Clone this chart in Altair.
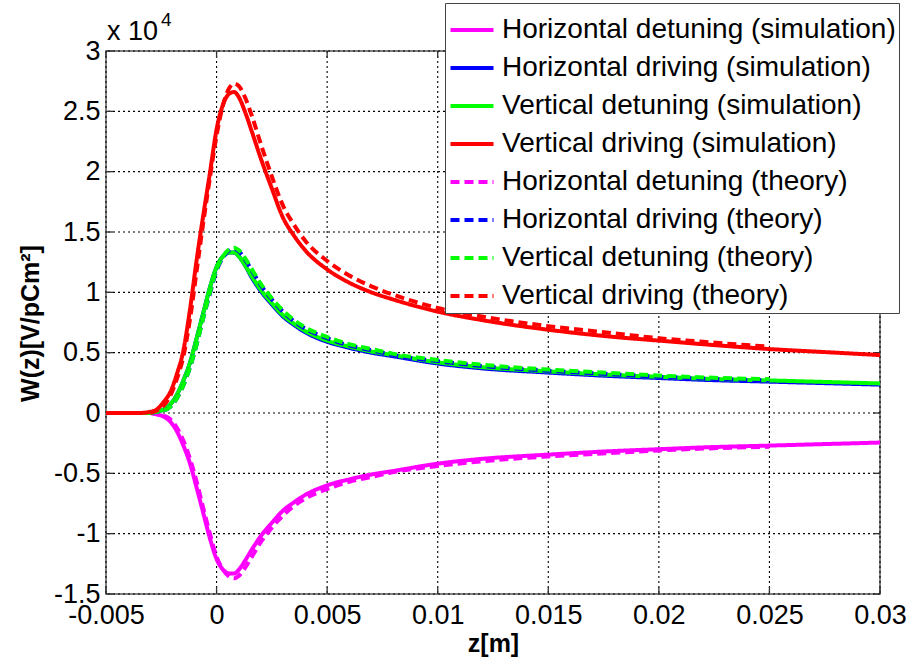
import altair as alt
import pandas as pd

# Wake potential W(z) in units of 1e4 V/pC/m^2 along z [m]
z_sim = [-0.005, -0.004, -0.0035, -0.003, -0.0027, -0.0024, -0.0021, -0.0018,
         -0.0015, -0.0012, -0.0009, -0.0006, -0.0003, 0.0, 0.0003, 0.0006,
         0.0008, 0.001, 0.0013, 0.0016, 0.002, 0.0025, 0.003, 0.0035, 0.004,
         0.005, 0.006, 0.007, 0.008, 0.01, 0.012, 0.015, 0.018, 0.02, 0.022,
         0.025, 0.028, 0.03]

vert_driving_sim = [0.0, 0.0, 0.0, 0.01, 0.03, 0.09, 0.17, 0.32, 0.52, 0.86,
                    1.27, 1.64, 1.99, 2.35, 2.56, 2.65, 2.66, 2.62, 2.49, 2.33,
                    2.11, 1.86, 1.62, 1.47, 1.35, 1.19, 1.08, 1.00, 0.94, 0.84,
                    0.77, 0.69, 0.63, 0.60, 0.57, 0.53, 0.50, 0.48]

vert_detuning_sim = [0.0, 0.0, 0.0, 0.0, 0.01, 0.03, 0.07, 0.15, 0.27, 0.42,
                     0.62, 0.83, 1.04, 1.21, 1.30, 1.33, 1.33, 1.30, 1.22, 1.13,
                     1.02, 0.91, 0.81, 0.74, 0.68, 0.60, 0.55, 0.51, 0.48, 0.42,
                     0.38, 0.345, 0.315, 0.30, 0.285, 0.27, 0.255, 0.245]

horiz_driving_sim = [0.0, 0.0, 0.0, 0.0, 0.01, 0.03, 0.07, 0.15, 0.27, 0.42,
                     0.62, 0.83, 1.04, 1.21, 1.30, 1.33, 1.33, 1.30, 1.22, 1.12,
                     1.01, 0.90, 0.80, 0.73, 0.67, 0.59, 0.54, 0.50, 0.47, 0.41,
                     0.37, 0.335, 0.305, 0.29, 0.275, 0.26, 0.245, 0.235]

horiz_detuning_sim = [0.0, 0.0, 0.0, 0.0, -0.01, -0.03, -0.07, -0.15, -0.27, -0.42,
                      -0.62, -0.83, -1.04, -1.21, -1.30, -1.33, -1.33, -1.30, -1.22, -1.13,
                      -1.02, -0.91, -0.81, -0.74, -0.68, -0.60, -0.55, -0.51, -0.48, -0.42,
                      -0.38, -0.345, -0.315, -0.30, -0.285, -0.27, -0.255, -0.245]

z_th = [-0.003, -0.0027, -0.0024, -0.0021, -0.0018, -0.0015, -0.0012, -0.0009,
        -0.0006, -0.0003, 0.0, 0.0003, 0.0006, 0.0008, 0.001, 0.0013, 0.0016,
        0.002, 0.0025, 0.003, 0.0035, 0.004, 0.005, 0.006, 0.007, 0.008, 0.01,
        0.012, 0.015, 0.018, 0.02, 0.022, 0.025]

vert_driving_th = [0.0, 0.02, 0.06, 0.14, 0.28, 0.47, 0.78, 1.18, 1.58, 1.95,
                   2.30, 2.56, 2.70, 2.73, 2.71, 2.61, 2.46, 2.23, 1.96, 1.72,
                   1.56, 1.43, 1.26, 1.14, 1.05, 0.98, 0.87, 0.80, 0.72, 0.66,
                   0.62, 0.59, 0.55]

vert_detuning_th = [0.0, 0.01, 0.02, 0.05, 0.12, 0.23, 0.38, 0.57, 0.79, 1.00,
                    1.19, 1.30, 1.36, 1.37, 1.35, 1.28, 1.19, 1.07, 0.95, 0.85,
                    0.77, 0.71, 0.63, 0.57, 0.53, 0.49, 0.44, 0.40, 0.36, 0.33,
                    0.31, 0.295, 0.28]

horiz_driving_th = [0.0, 0.01, 0.02, 0.05, 0.12, 0.23, 0.38, 0.57, 0.79, 0.99,
                    1.18, 1.29, 1.35, 1.36, 1.34, 1.27, 1.18, 1.06, 0.94, 0.84,
                    0.76, 0.70, 0.62, 0.56, 0.52, 0.48, 0.43, 0.39, 0.35, 0.32,
                    0.30, 0.285, 0.27]

horiz_detuning_th = [0.0, -0.01, -0.02, -0.05, -0.12, -0.23, -0.38, -0.57, -0.79, -1.00,
                     -1.19, -1.30, -1.36, -1.37, -1.35, -1.28, -1.19, -1.07, -0.95, -0.85,
                     -0.77, -0.71, -0.63, -0.57, -0.53, -0.49, -0.44, -0.40, -0.36, -0.33,
                     -0.31, -0.295, -0.28]

series_names = [
    "Horizontal detuning (simulation)",
    "Horizontal driving (simulation)",
    "Vertical detuning (simulation)",
    "Vertical driving (simulation)",
    "Horizontal detuning (theory)",
    "Horizontal driving (theory)",
    "Vertical detuning (theory)",
    "Vertical driving (theory)",
]
series_colors = ["#ff00ff", "#0000ff", "#00ff00", "#ff0000",
                 "#ff00ff", "#0000ff", "#00ff00", "#ff0000"]
series_dashes = [[1, 0]] * 4 + [[9, 5]] * 4

x_ticks = [-0.005, 0.0, 0.005, 0.01, 0.015, 0.02, 0.025, 0.03]
y_ticks = [-1.5, -1.0, -0.5, 0.0, 0.5, 1.0, 1.5, 2.0, 2.5, 3.0]

curves = [
    (z_sim, horiz_detuning_sim), (z_sim, horiz_driving_sim),
    (z_sim, vert_detuning_sim), (z_sim, vert_driving_sim),
    (z_th, horiz_detuning_th), (z_th, horiz_driving_th),
    (z_th, vert_detuning_th), (z_th, vert_driving_th),
]

rows = []
for name, (zs, ws) in zip(series_names, curves):
    for z, w in zip(zs, ws):
        rows.append({"z": z, "W": w, "series": name})
df = pd.DataFrame(rows)
xt_df = pd.DataFrame({"z": x_ticks})
yt_df = pd.DataFrame({"W": y_ticks})

FONT = "Liberation Sans"
W_PLOT, H_PLOT = 774, 543

x_enc = alt.X("z:Q",
              scale=alt.Scale(domain=[-0.005, 0.03], nice=False, zero=False),
              axis=alt.Axis(values=x_ticks, title="z[m]", labelFlush=False,
                            labelExpr="toString(datum.value)",
                            titleY=49, titleBaseline="middle"))
y_enc = alt.Y("W:Q",
              scale=alt.Scale(domain=[-1.5, 3], nice=False),
              axis=alt.Axis(values=y_ticks, title="W(z)[V/pCm²]", labelFlush=False,
                            labelExpr="toString(datum.value)",
                            titleX=-76, titleY=272, titleBaseline="middle"))

legend_kw = dict(
    title=None, orient="none", legendX=339, legendY=-48,
    labelFontSize=28, labelFont=FONT, labelColor="#000", labelLimit=0,
    symbolType="stroke", symbolSize=1850, symbolStrokeWidth=4,
    rowPadding=-2.5, labelOffset=6, padding=3,
    fillColor="white", strokeColor="#444",
)

# dotted grid
grid_style = dict(color="#000", strokeDash=[2, 3], strokeWidth=1.1)
vgrid = alt.Chart(xt_df).mark_rule(**grid_style).encode(x=x_enc)
hgrid = alt.Chart(yt_df).mark_rule(**grid_style).encode(y=y_enc)

# inward tick marks on all four sides
tick_style = dict(color="#333", strokeWidth=1.3)
ticks_bottom = alt.Chart(xt_df).mark_rule(**tick_style).encode(
    x=x_enc, y=alt.value(H_PLOT), y2=alt.value(H_PLOT - 7))
ticks_top = alt.Chart(xt_df).mark_rule(**tick_style).encode(
    x=x_enc, y=alt.value(0), y2=alt.value(7))
ticks_left = alt.Chart(yt_df).mark_rule(**tick_style).encode(
    y=y_enc, x=alt.value(0), x2=alt.value(7))
ticks_right = alt.Chart(yt_df).mark_rule(**tick_style).encode(
    y=y_enc, x=alt.value(W_PLOT), x2=alt.value(W_PLOT - 7))

lines = alt.Chart(df).mark_line(strokeWidth=4, interpolate="monotone", clip=True).encode(
    x=x_enc,
    y=y_enc,
    color=alt.Color("series:N", sort=series_names,
                    scale=alt.Scale(domain=series_names, range=series_colors),
                    legend=alt.Legend(**legend_kw)),
    strokeDash=alt.StrokeDash("series:N", sort=series_names,
                              scale=alt.Scale(domain=series_names, range=series_dashes),
                              legend=alt.Legend(**legend_kw)),
)

exp_base = alt.Chart(pd.DataFrame({"t": ["x 10"]})).mark_text(
    font=FONT, fontSize=27, align="left", baseline="alphabetic", color="#000"
).encode(x=alt.value(1), y=alt.value(-11), text="t:N")

exp_power = alt.Chart(pd.DataFrame({"t": ["4"]})).mark_text(
    font=FONT, fontSize=19, align="left", baseline="alphabetic", color="#000"
).encode(x=alt.value(55), y=alt.value(-25), text="t:N")

chart = alt.layer(
    vgrid, hgrid, ticks_bottom, ticks_top, ticks_left, ticks_right,
    lines, exp_base, exp_power
).properties(
    width=W_PLOT, height=H_PLOT,
    padding={"left": 106, "top": 51, "right": 33, "bottom": 66},
    autosize=alt.AutoSizeParams(type="none"),
    background="white",
).configure_view(
    stroke="#555", strokeWidth=1.5
).configure_axis(
    grid=False, domain=False, ticks=False,
    labelFont=FONT, labelFontSize=27, labelColor="#000",
    titleFont=FONT, titleFontSize=25, titleFontWeight="bold", titleColor="#000",
).configure_axisX(
    labelPadding=8
).configure_axisY(
    labelPadding=6
)

chart.save("out.html", embed_options={"renderer": "svg", "actions": False})
